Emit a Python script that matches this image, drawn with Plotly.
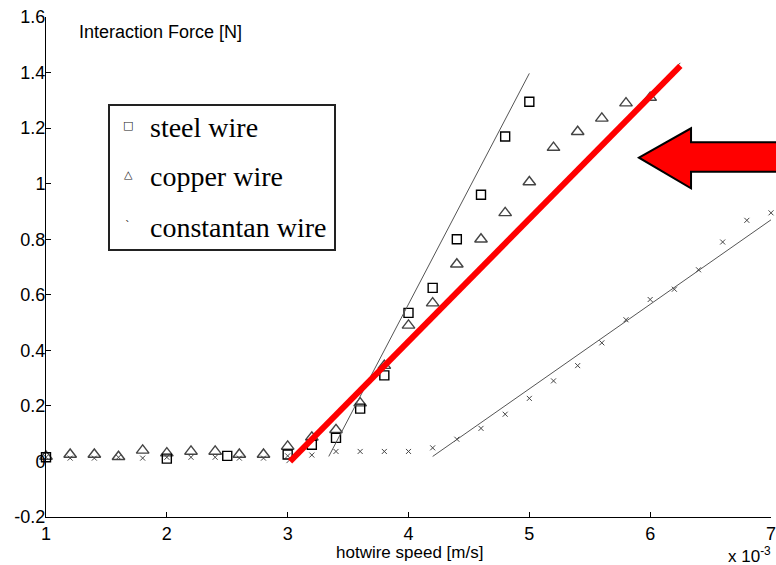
import plotly.graph_objects as go

# ---------------- data (x in units of 1e-3 m/s as labelled) ----------------
steel_x = [1.0, 2.0, 2.5, 3.0, 3.2, 3.4, 3.6, 3.8, 4.0, 4.2, 4.4, 4.6, 4.8, 5.0]
steel_y = [0.015, 0.01, 0.02, 0.025, 0.06, 0.085, 0.19, 0.31, 0.535, 0.625, 0.80, 0.96, 1.17, 1.295]

copper_x = [1.0, 1.2, 1.4, 1.6, 1.8, 2.0, 2.2, 2.4, 2.6, 2.8, 3.0, 3.2, 3.4,
            3.6, 3.8, 4.0, 4.2, 4.4, 4.6, 4.8, 5.0, 5.2, 5.4, 5.6, 5.8, 6.0]
copper_y = [0.018, 0.025, 0.025, 0.017, 0.04, 0.03, 0.036, 0.036, 0.025, 0.025, 0.054, 0.087, 0.114,
            0.21, 0.345, 0.49, 0.57, 0.71, 0.80, 0.895, 1.006, 1.13, 1.187, 1.235, 1.29, 1.31]

constantan_x = [1.0, 1.2, 1.4, 1.6, 1.8, 2.0, 2.2, 2.4, 2.6, 2.8, 3.0, 3.2, 3.4, 3.6, 3.8, 4.0,
                4.2, 4.4, 4.6, 4.8, 5.0, 5.2, 5.4, 5.6, 5.8, 6.0, 6.2, 6.4, 6.6, 6.8, 7.0]
constantan_y = [0.015, 0.012, 0.012, 0.015, 0.012, 0.015, 0.015, 0.015, 0.012, 0.012, 0.02, 0.023,
                0.036, 0.036, 0.036, 0.036, 0.049, 0.08, 0.119, 0.17, 0.227, 0.29, 0.345, 0.427,
                0.51, 0.583, 0.62, 0.69, 0.79, 0.868, 0.895]

# linear fits
steel_fit_x = [3.34, 5.0]
steel_fit_y = [0.018, 1.397]
copper_fit_x = [2.99, 6.25]
copper_fit_y = [-0.006, 1.435]
constantan_fit_x = [4.2, 7.05]
constantan_fit_y = [0.018, 0.885]
highlight_x = [3.02, 6.25]
highlight_y = [0.0, 1.424]

y_ticks = [-0.2, 0, 0.2, 0.4, 0.6, 0.8, 1.0, 1.2, 1.4, 1.6]
y_ticktext = ["-0.2", "0", "0.2", "0.4", "0.6", "0.8", "1", "1.2", "1.4", "1.6"]
x_ticks = [1, 2, 3, 4, 5, 6, 7]
x_ticktext = ["1", "2", "3", "4", "5", "6", "7"]

legend_labels = ["steel wire", "copper wire", "constantan wire"]

# ---------------- figure ----------------
W, H = 776, 565
PL, PR, PT, PB = 46, 771, 17, 517          # plot-area edges in window pixels
L, R, T, B = PL, W - PR, PT, H - PB
PW, PH = PR - PL, PB - PT


def px(x):
    return (x - PL) / PW


def py(y):
    return (PB - y) / PH


fig = go.Figure()

fig.add_trace(go.Scatter(x=constantan_x, y=constantan_y, mode="markers",
                         marker=dict(symbol="x-thin-open", size=5, color="#444",
                                     line=dict(width=1, color="#444")),
                         name="constantan wire", showlegend=False, cliponaxis=False))
fig.add_trace(go.Scatter(x=copper_x, y=copper_y, mode="markers",
                         marker=dict(symbol="triangle-up-open", size=11, color="#444",
                                     line=dict(width=1.4)),
                         name="copper wire", showlegend=False, cliponaxis=False))
fig.add_trace(go.Scatter(x=steel_x, y=steel_y, mode="markers",
                         marker=dict(symbol="square-open", size=9, color="#000",
                                     line=dict(width=1.4)),
                         name="steel wire", showlegend=False, cliponaxis=False))

for fx, fy in [(steel_fit_x, steel_fit_y), (copper_fit_x, copper_fit_y),
               (constantan_fit_x, constantan_fit_y)]:
    fig.add_trace(go.Scatter(x=fx, y=fy, mode="lines",
                             line=dict(color="#555", width=1), showlegend=False,
                             hoverinfo="skip", cliponaxis=False))

fig.add_trace(go.Scatter(x=highlight_x, y=highlight_y, mode="lines",
                         line=dict(color="#ff0000", width=6), showlegend=False,
                         hoverinfo="skip"))

font = dict(family="Liberation Sans, Arial, sans-serif", size=18, color="#000")
xfont = dict(family="Liberation Sans, Arial, sans-serif", size=17, color="#000")

fig.update_layout(
    width=W, height=H,
    margin=dict(l=L, r=R, t=T, b=B, autoexpand=False),
    paper_bgcolor="white", plot_bgcolor="white",
    font=font,
    showlegend=False,
    xaxis=dict(range=[1, 7], tickvals=x_ticks, ticktext=x_ticktext,
               showline=True, linecolor="#000", linewidth=1, mirror=False,
               ticks="inside", ticklen=5, tickcolor="#000",
               showgrid=False, zeroline=False, tickfont=font, automargin=False,
               ticklabeloverflow="allow"),
    yaxis=dict(range=[-0.2, 1.6], tickvals=y_ticks, ticktext=y_ticktext,
               showline=True, linecolor="#000", linewidth=1,
               ticks="inside", ticklen=5, tickcolor="#000",
               showgrid=False, zeroline=False, tickfont=font, automargin=False,
               ticklabeloverflow="allow", ticklabelstandoff=-4),
)

ann = []
ann.append(dict(text="Interaction Force [N]", x=px(77), y=py(32), xref="paper", yref="paper",
                xanchor="left", yanchor="middle", showarrow=False, font=font))
ann.append(dict(text="hotwire speed [m/s]", x=px(409), y=py(552), xref="paper", yref="paper",
                xanchor="center", yanchor="middle", showarrow=False, font=xfont))
ann.append(dict(text="x 10<sup>-3</sup>", x=px(726), y=py(555), xref="paper", yref="paper",
                xanchor="left", yanchor="middle", showarrow=False,
                font=dict(family=font["family"], size=17, color="#000")))

# legend (manual)
serif = dict(family="Liberation Serif, Times New Roman, serif", size=28, color="#000")
leg_y = [128, 177, 227]
leg_sym = ["\u25a1", "\u25b3", "`"]
for lab, yy, sym in zip(legend_labels, leg_y, leg_sym):
    ann.append(dict(text=lab, x=px(148), y=py(yy), xref="paper", yref="paper",
                    xanchor="left", yanchor="middle", showarrow=False, font=serif))
    ann.append(dict(text=sym, x=px(128), y=py(yy - 2), xref="paper", yref="paper",
                    xanchor="center", yanchor="middle", showarrow=False,
                    font=dict(family="DejaVu Sans", size=11, color="#222")))
fig.update_layout(annotations=ann)

shapes = []
shapes.append(dict(type="rect", xref="paper", yref="paper",
                   x0=px(109), x1=px(335), y0=py(250), y1=py(105),
                   line=dict(color="#222", width=2), fillcolor="rgba(0,0,0,0)"))
# big red arrow
pts = [(639, 157.7), (691, 128.3), (691, 142.3), (785, 142.3), (785, 171.7),
       (691, 171.7), (691, 188.3)]
path = "M " + " L ".join(f"{px(a):.4f},{py(b):.4f}" for a, b in pts) + " Z"
shapes.append(dict(type="path", xref="paper", yref="paper", path=path,
                   fillcolor="#ff0000", line=dict(color="#000", width=2)))
fig.update_layout(shapes=shapes)

# place the figure at the page's top-left corner (no default body margin)
fig.write_html("out.html", config={"displayModeBar": False},
               post_script="document.body.style.margin='0';"
                           "document.body.style.overflow='hidden';")
